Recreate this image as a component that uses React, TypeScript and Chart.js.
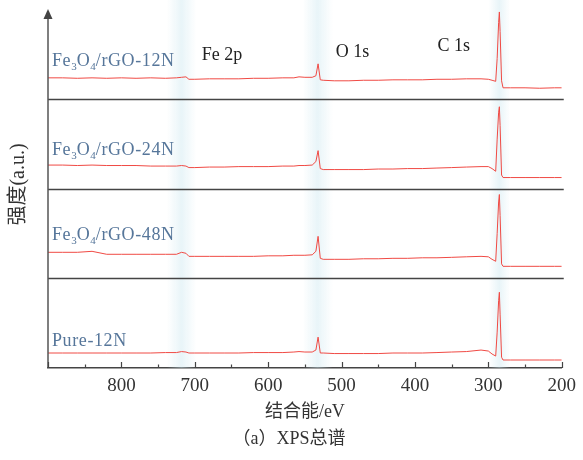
import { useEffect, useRef } from 'react';
import { Chart, registerables } from 'chart.js';

Chart.register(...registerables);

// Binding energy (eV) sampled along the survey spectra
const energy = [900, 880, 860, 840, 820, 800, 780, 760, 740, 725, 718, 712, 708, 700, 680, 660, 640, 620, 600, 580, 565, 558, 550, 540, 535, 532, 529, 525, 510, 490, 470, 450, 430, 410, 390, 370, 350, 330, 310, 300, 295, 290, 288, 286, 285, 284, 282, 280, 270, 250, 230, 210, 200];

// Intensities (a.u., each panel scaled 0-100)
const rgo12N = [23.3, 23.3, 22.8, 23.3, 22.8, 23.3, 22.8, 23.3, 22.8, 23.3, 23.9, 24.4, 21.7, 21.7, 22.2, 22.2, 22.2, 22.8, 22.8, 23.3, 23.3, 24.4, 23.9, 23.9, 25.6, 38.9, 21.1, 20.6, 20.0, 20.0, 20.6, 20.6, 21.1, 21.1, 21.1, 21.7, 21.7, 22.2, 22.2, 21.7, 20.6, 19.4, 45, 85, 96.7, 75, 20, 12.2, 12.2, 12.2, 11.7, 12.2, 12.2];
const rgo24N = [26.1, 26.1, 25.6, 26.1, 25.6, 25.6, 25.6, 25.0, 25.0, 25.0, 25.6, 25.0, 23.3, 23.3, 23.9, 23.9, 24.4, 24.4, 24.4, 25.0, 25.0, 25.6, 25.6, 26.1, 30, 42.2, 22.2, 21.1, 21.1, 21.1, 21.1, 21.7, 21.7, 22.2, 22.2, 22.8, 23.3, 23.9, 24.4, 24.4, 22.2, 19.2, 55, 85, 91.1, 70, 15, 12.2, 12.2, 12.2, 12.2, 12.2, 12.2];
const rgo48N = [28.9, 28.9, 28.9, 30.0, 26.7, 26.7, 26.7, 26.7, 26.7, 26.7, 28.9, 27.8, 24.4, 24.4, 24.4, 24.4, 24.4, 24.4, 25.0, 25.0, 25.6, 25.6, 25.6, 26.1, 30, 46.7, 22.2, 21.1, 21.1, 21.1, 21.7, 21.7, 22.2, 22.2, 22.8, 22.8, 23.3, 23.9, 24.4, 23.9, 21.1, 18.9, 50, 85, 93.3, 70, 16, 13.3, 13.3, 13.3, 13.3, 13.3, 13.3];
const pure12N = [16.7, 16.7, 16.7, 16.7, 16.7, 16.7, 16.7, 16.7, 17.2, 17.2, 18.3, 17.8, 16.7, 16.7, 16.7, 16.7, 16.7, 17.2, 17.2, 17.2, 17.8, 18.3, 17.8, 17.8, 20, 34.4, 16.7, 16.7, 16.1, 16.1, 16.1, 16.1, 16.7, 16.7, 16.7, 17.2, 17.8, 18.3, 20.0, 18.9, 15.6, 13.3, 40, 75, 84.4, 60, 12, 8.9, 8.9, 8.9, 8.9, 8.9, 8.9];

// Panel names, top to bottom ("_n" = subscript)
const sampleNames = ['Fe_3O_4/rGO-12N', 'Fe_3O_4/rGO-24N', 'Fe_3O_4/rGO-48N', 'Pure-12N'];
const peakNames = ['Fe 2p', 'O 1s', 'C 1s'];
const peakEnergies = [663, 485, 347];
const xTickLabels = [800, 700, 600, 500, 400, 300, 200];
const xTitle = '结合能/eV';
const yTitle = '强度(a.u.)';
const caption = '（a）XPS总谱';

const SERIF = '"Liberation Serif", "Noto Sans CJK SC", serif';
const LINE = '#f04a44';
const LABEL_BLUE = '#56769a';

const panelIds = ['p1', 'p2', 'p3', 'p4'];
const panelSeries = [rgo12N, rgo24N, rgo48N, pure12N];
const labelLevels = [42, 43, 48, 30];
const peakLevels = [49, 52, 58];
const bandRanges = [[738, 698], [553, 512], [300, 270]];

function drawRich(ctx: CanvasRenderingContext2D, text: string, x: number, y: number, size: number) {
  let cx = x;
  for (let i = 0; i < text.length; i++) {
    const ch = text[i];
    if (ch === '_' && i + 1 < text.length) {
      const s = text[i + 1];
      ctx.font = `${Math.round(size * 0.62)}px ${SERIF}`;
      ctx.fillText(s, cx, y + size * 0.32);
      cx += ctx.measureText(s).width;
      i++;
    } else {
      ctx.font = `${size}px ${SERIF}`;
      ctx.fillText(ch, cx, y);
      cx += ctx.measureText(ch).width + 0.6;
    }
  }
}

const decor = {
  id: 'decor',
  beforeDatasetsDraw(chart: any) {
    const { ctx, chartArea: a, scales } = chart;
    const x = scales.x;
    ctx.save();
    for (const [e1, e2] of bandRanges) {
      const xa = x.getPixelForValue(e1);
      const xb = x.getPixelForValue(e2);
      const l = Math.min(xa, xb);
      const r = Math.max(xa, xb);
      const g = ctx.createLinearGradient(l, 0, r, 0);
      g.addColorStop(0, 'rgba(205,232,240,0)');
      g.addColorStop(0.5, 'rgba(205,232,240,0.45)');
      g.addColorStop(1, 'rgba(205,232,240,0)');
      ctx.fillStyle = g;
      ctx.fillRect(l, 0, r - l, a.bottom);
    }
    ctx.strokeStyle = '#444';
    ctx.lineWidth = 1.6;
    for (let i = 0; i < panelIds.length - 1; i++) {
      const sc = scales[panelIds[i]];
      const y = Math.round(sc.bottom) + 0.5;
      ctx.beginPath();
      ctx.moveTo(a.left, y);
      ctx.lineTo(a.right + 2, y);
      ctx.stroke();
    }
    ctx.restore();
  },
  afterDraw(chart: any) {
    const { ctx, chartArea: a, scales } = chart;
    const x = scales.x;
    ctx.save();
    // y axis with arrow
    ctx.strokeStyle = '#555';
    ctx.fillStyle = '#444';
    ctx.lineWidth = 1.5;
    ctx.beginPath();
    ctx.moveTo(a.left, a.bottom);
    ctx.lineTo(a.left, a.top + 8);
    ctx.stroke();
    ctx.beginPath();
    ctx.moveTo(a.left, a.top);
    ctx.lineTo(a.left - 4.5, a.top + 10);
    ctx.lineTo(a.left + 4.5, a.top + 10);
    ctx.closePath();
    ctx.fill();
    // inward x ticks
    ctx.strokeStyle = '#444';
    ctx.lineWidth = 1.2;
    for (const t of x.ticks) {
      const px = Math.round(x.getPixelForValue(t.value)) + 0.5;
      const len = t.value % 100 === 0 ? 6 : 3.5;
      ctx.beginPath();
      ctx.moveTo(px, a.bottom);
      ctx.lineTo(px, a.bottom - len);
      ctx.stroke();
    }
    // sample labels
    ctx.fillStyle = LABEL_BLUE;
    ctx.textBaseline = 'middle';
    ctx.textAlign = 'left';
    sampleNames.forEach((name, i) => {
      const sc = scales[panelIds[i]];
      drawRich(ctx, name, a.left + 4, sc.getPixelForValue(labelLevels[i]), 18);
    });
    // peak labels
    ctx.fillStyle = '#222';
    ctx.textAlign = 'center';
    ctx.font = `18px ${SERIF}`;
    peakNames.forEach((name, i) => {
      ctx.fillText(name, x.getPixelForValue(peakEnergies[i]), scales.p1.getPixelForValue(peakLevels[i]));
    });
    // titles
    ctx.fillStyle = '#333';
    ctx.font = `18px ${SERIF}`;
    ctx.fillText(xTitle, (a.left + a.right) / 2, 412);
    ctx.font = `18px ${SERIF}`;
    ctx.fillText(caption, 289, 439);
    ctx.translate(19, (a.top + a.bottom) / 2 - 4);
    ctx.rotate(-Math.PI / 2);
    ctx.font = `20px ${SERIF}`;
    ctx.fillText(yTitle, 0, 0);
    ctx.restore();
  },
};

export default function App() {
  const ref = useRef<HTMLCanvasElement | null>(null);
  useEffect(() => {
    if (!ref.current) return;
    const datasets = panelSeries.map((vals, i) => ({
      label: sampleNames[i],
      data: energy.map((e, j) => ({ x: e, y: vals[j] })),
      borderColor: LINE,
      borderWidth: 1,
      pointRadius: 0,
      tension: 0,
      fill: false,
      xAxisID: 'x',
      yAxisID: panelIds[i],
    }));
    const yScales: any = {};
    panelIds.forEach((id, i) => {
      yScales[id] = {
        type: 'linear',
        position: 'left',
        stack: 'panels',
        stackWeight: 1,
        weight: panelIds.length - i,
        min: 0,
        max: 100,
        display: false,
      };
    });
    const chart = new Chart(ref.current, {
      type: 'line',
      data: { datasets },
      plugins: [decor],
      options: {
        animation: false,
        responsive: false,
        layout: { padding: { left: 48, right: 20, top: 9, bottom: 0 } },
        plugins: { legend: { display: false }, tooltip: { enabled: false } },
        scales: {
          x: {
            type: 'linear',
            position: 'bottom',
            reverse: true,
            min: 200,
            max: 900,
            afterFit: (s: any) => { s.height = 92; },
            grid: { display: false, drawTicks: false },
            border: { display: true, color: '#444', width: 1.6 },
            ticks: {
              stepSize: 50,
              autoSkip: false,
              maxRotation: 0,
              padding: 7,
              color: '#333',
              font: { family: SERIF, size: 19 },
              callback: (v: any) => (xTickLabels.includes(Number(v)) ? String(v) : ''),
            },
          },
          ...yScales,
        },
      },
    });
    return () => chart.destroy();
  }, []);
  return (
    <div style={{ position: 'fixed', left: 0, top: 0, width: 583, height: 460, background: '#fff' }}>
      <canvas ref={ref} width={583} height={460} style={{ display: 'block' }} />
    </div>
  );
}
